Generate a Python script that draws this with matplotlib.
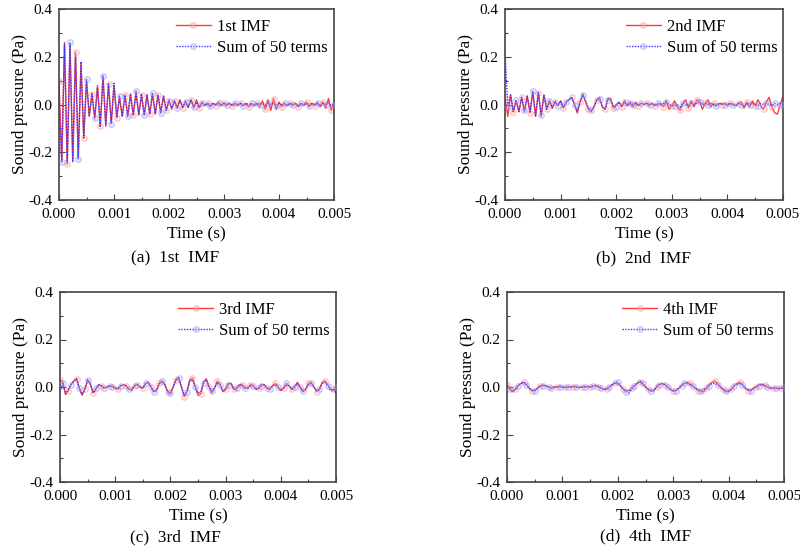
import numpy as np
import matplotlib
matplotlib.use("Agg")
import matplotlib.pyplot as plt
from matplotlib.ticker import MultipleLocator

plt.rcParams['font.family'] = ['Liberation Serif', 'DejaVu Serif']

# time samples (s): 0 ... 0.005, every 0.05 ms
n_samples = 101
t_end = 0.005

# values in mPa (1e-3 Pa)
imf1 = [100, -240, 260, -250, 250, -240, 220, -225, 170, -140,
        100, -50, 45, -60, 80, -90, 115, -85, 85, -80,
        80, -55, 30, -50, 40, -50, 45, -45, 50, -45,
        40, -45, 40, -40, 45, -40, 40, -35, 35, -25,
        20, -20, 15, -15, 20, -15, 15, -10, 20, -15,
        20, -15, 10, -5, 5, -10, 5, -5, 10, -5,
        5, -5, 5, -5, 5, -5, 5, -5, 5, -10,
        5, -5, 5, -10, 15, -20, 20, -25, 25, -20,
        10, -10, 5, -5, 5, -5, 5, -10, 5, -5,
        10, -10, 5, -5, 10, -10, 10, -15, 25, -25, 10]
sum1 = [20, -240, 250, -240, 260, -235, 200, -230, 180, -140,
        105, -45, 45, -55, 70, -95, 120, -90, 90, -80,
        90, -55, 35, -50, 40, -50, 40, -45, 55, -40,
        45, -45, 40, -40, 50, -40, 40, -35, 35, -25,
        15, -15, 15, -15, 15, -10, 10, -15, 20, -10,
        10, -10, 5, -5, 5, -5, 5, 0, 5, -5,
        5, 0, 5, -5, 5, 0, 5, -5, 5, 0,
        5, -5, 5, 0, 5, -5, 5, 0, 5, -5,
        5, 0, 5, -5, 5, 0, 5, -5, 5, 0,
        5, -5, 5, 0, 5, -5, 5, 0, 5, -5, 0]

imf2 = [30, -50, 40, -30, 15, -30, 30, -30, 35, -35,
        55, -50, 50, -50, 40, -20, 15, -15, 10, -5,
        15, -15, 10, 20, 30, 0, -35, 10, 45, 10,
        -20, -30, -10, 20, 30, -10, -20, 25, 25, -15,
        0, 10, -10, 15, -5, 5, -10, 10, -5, 5,
        0, 5, -5, 5, -5, 0, 5, -10, 15, -20,
        -5, 15, -10, -25, 5, 20, -15, 15, -10, 20,
        15, -20, 5, 20, -10, 5, -5, 5, 0, 5,
        -5, 5, 0, -5, 5, 10, -15, 10, -10, 15,
        -5, 20, -5, -20, 10, 30, -10, -35, -40, 0, 35]
sum2 = [220, -10, 40, -30, 20, -30, 30, -25, 35, -30,
        55, -45, 50, -45, 40, -20, 15, -15, 15, -5,
        15, -10, 10, 20, 30, 0, -30, 10, 40, 15,
        -15, -25, -10, 20, 25, -10, -20, 20, 20, -10,
        -10, 10, -5, 10, -5, 10, 0, 5, -5, 5,
        0, 5, 0, 5, -5, 5, 0, 5, 10, 0,
        -5, -5, 0, -10, 5, 0, -5, 5, 0, 5,
        10, 0, 5, 0, 5, 0, -5, 0, 5, 0,
        0, 5, 0, -5, 5, 0, -5, 5, 0, 5,
        0, -5, 5, 0, 5, 0, -5, 5, 0, 5, 0]

imf3 = [30, 20, -30, -15, 10, 25, 35, -5, -35, -10,
        30, 15, -25, -10, 10, 5, -5, 0, 5, 5,
        -5, -10, 5, 10, 5, -10, -10, 5, 10, 0,
        -5, 15, 20, 0, -20, -15, 15, 25, 10, -20,
        -30, 0, 30, 40, 0, -40, -20, 30, 38, 0,
        -35, -30, 20, 35, 0, -25, -5, 25, 10, -20,
        -10, 15, 15, -10, -10, 10, 10, -5, -5, 10,
        5, -10, -5, 10, 10, -5, -10, 5, 15, 0,
        -15, -5, 10, 5, -10, 0, 20, 0, -20, -10,
        15, 20, 0, -20, -10, 20, 25, 10, -10, -10, -25]
sum3 = [-20, 15, -30, -10, 10, 25, 35, -5, -30, -10,
        30, 10, -25, -5, 10, 5, -5, 0, 5, 0,
        -5, -5, 5, 10, 5, -10, -15, 5, 10, 0,
        -5, 15, 20, 0, -20, -10, 15, 25, 10, -20,
        -25, 0, 30, 40, 0, -35, -20, 25, 30, 0,
        -25, -20, 15, 30, 0, -15, -5, 20, 10, -15,
        -10, 10, 15, -10, -5, 10, 5, -5, -5, 5,
        5, -10, -5, 5, 10, -5, -10, 5, 10, 0,
        -15, -5, 15, 5, -10, 0, 15, 0, -15, -10,
        10, 15, 0, -15, -10, 15, 20, 5, -15, -15, 0]

imf4 = [10, -5, -20, -10, 5, 15, 20, 10, -5, -15,
        -15, -5, 5, 8, 5, 0, -5, 0, 0, 2,
        0, -2, 0, 0, 2, 0, -2, 0, 0, 2,
        0, 3, 5, 0, -5, -10, -8, 0, 10, 15,
        15, 5, -10, -15, -15, -5, 5, 15, 20, 15,
        0, -10, -18, -15, 0, 10, 15, 10, 0, -10,
        -18, -15, -5, 5, 15, 20, 15, 5, -5, -15,
        -20, -20, -5, 10, 20, 25, 15, 0, -10, -20,
        -20, -10, 5, 15, 20, 10, -5, -15, -15, -5,
        0, 10, 12, 8, 0, -5, -5, -5, -8, -5, -5]
sum4 = [0, -10, -20, -10, 5, 15, 20, 10, -5, -15,
        -15, -5, 5, 5, 5, 0, -5, 0, 0, 2,
        0, -2, 0, 0, 2, 0, -2, 0, 0, 2,
        0, 3, 8, 3, -5, -10, -10, 0, 10, 18,
        20, 5, -10, -20, -25, -10, 5, 18, 25, 15,
        0, -10, -15, -15, 0, 10, 15, 10, 0, -10,
        -15, -15, -5, 5, 15, 15, 10, 5, -5, -10,
        -15, -10, -5, 5, 15, 15, 10, 0, -10, -15,
        -15, -10, 5, 10, 15, 10, -5, -10, -15, -5,
        0, 5, 10, 5, 0, -5, -5, -5, -5, -5, 0]

imf_labels = ['1st IMF', '2nd IMF', '3rd IMF', '4th IMF']
captions = ['(a)  1st  IMF', '(b)  2nd  IMF', '(c)  3rd  IMF', '(d)  4th  IMF']
sum_label = 'Sum of 50 terms'
xticks = [0.000, 0.001, 0.002, 0.003, 0.004, 0.005]
yticks = [-0.4, -0.2, 0.0, 0.2, 0.4]

imfs = [imf1, imf2, imf3, imf4]
sums = [sum1, sum2, sum3, sum4]

t = np.linspace(0, t_end, n_samples)

W, H = 800, 551
fig = plt.figure(figsize=(W / 100, H / 100), dpi=100)

# axes boxes in pixels: left, top, right, bottom
boxes = [(59, 9, 334, 200), (505, 9, 783, 200),
         (60, 292, 336, 482), (507, 292, 784, 482)]
cap_pos = [(175, 258), (644, 258), (175, 537), (646, 536)]
leg_x = [1.018, 1.022, 1.02, 1.005]

red = '#ff3b3b'
blue = '#3a3aff'

for i in range(4):
    l, tp, r, b = boxes[i]
    ax = fig.add_axes([l / W, 1 - b / H, (r - l) / W, (b - tp) / H])
    ax.plot(t, np.array(imfs[i]) / 1000.0, color=red, lw=1.0, ls='-',
            marker='o', ms=4, markevery=3, mfc=(1, 0.7, 0.7, 0.3),
            mec=(1, 0.5, 0.5, 0.45), mew=0.8, label=imf_labels[i], zorder=2)
    ax.plot(t, np.array(sums[i]) / 1000.0, color=blue, lw=1.0, ls=(0, (1, 1)),
            marker='o', ms=4, markevery=(1, 3), mfc=(0.7, 0.7, 1, 0.3),
            mec=(0.5, 0.5, 1, 0.45), mew=0.8, label=sum_label, zorder=3)
    ax.set_xlim(0, 0.005)
    ax.set_ylim(-0.4, 0.4)
    ax.set_xticks(xticks)
    ax.set_xticklabels(['%.3f' % v for v in xticks])
    ax.set_yticks(yticks)
    ax.set_yticklabels(['%.1f' % v for v in yticks])
    ax.xaxis.set_minor_locator(MultipleLocator(0.0005))
    ax.yaxis.set_minor_locator(MultipleLocator(0.1))
    ax.tick_params(which='both', direction='in', top=False, right=False,
                   labelsize=11, color='#444444')
    ax.tick_params(axis='x', pad=6)
    ax.tick_params(axis='y', pad=5)
    ax.tick_params(which='major', length=4, width=0.8)
    ax.tick_params(which='minor', length=2.5, width=0.8)
    for s in ax.spines.values():
        s.set_color('#444444')
        s.set_linewidth(1.2)
    ax.set_xlabel('Time (s)', fontsize=12.5, labelpad=4)
    ax.set_ylabel('Sound pressure (Pa)', fontsize=12.5, labelpad=0)
    leg = ax.legend(loc='upper right', bbox_to_anchor=(leg_x[i], 1.01),
                    frameon=False, fontsize=12, handlelength=2.1,
                    handletextpad=0.35, labelspacing=0.3, borderpad=0.2,
                    markerscale=1.0)
    cx, cy = cap_pos[i]
    fig.text(cx / W, 1 - cy / H, captions[i], ha='center', va='center',
             fontsize=12.5)

fig.savefig('out.png', dpi=100)
